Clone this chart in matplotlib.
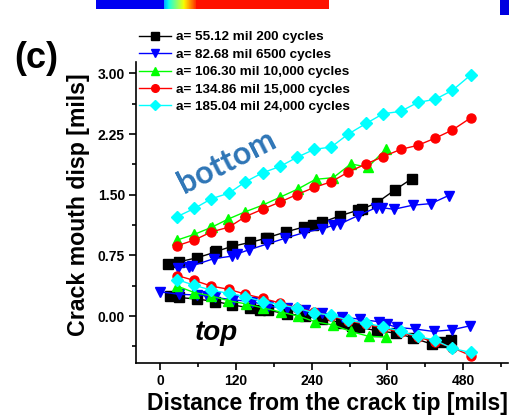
import numpy as np
import matplotlib.pyplot as plt
from matplotlib.lines import Line2D

plt.rcParams['font.family'] = ['Liberation Sans', 'DejaVu Sans']
plt.rcParams['font.weight'] = 'bold'

# a= 55.12 mil 200 cycles (black)
x_blk_bot = [13, 29, 58, 87, 89, 113, 142, 167, 170, 199, 227, 242, 257, 285, 314, 319, 343, 372, 399]
y_blk_bot = [0.64, 0.67, 0.72, 0.79, 0.80, 0.86, 0.91, 0.96, 0.97, 1.04, 1.10, 1.13, 1.16, 1.24, 1.31, 1.32, 1.40, 1.56, 1.70]
x_blk_top = [15, 29, 58, 87, 113, 142, 158, 171, 200, 229, 257, 286, 303, 315, 343, 373, 401, 431, 448, 460]
y_blk_top = [0.25, 0.23, 0.21, 0.18, 0.14, 0.10, 0.08, 0.07, 0.03, 0.00, -0.04, -0.08, -0.12, -0.14, -0.18, -0.21, -0.27, -0.35, -0.32, -0.29]

# a= 82.68 mil 6500 cycles (blue)
x_blu_bot = [28, 46, 50, 85, 113, 122, 141, 169, 197, 227, 256, 274, 285, 313, 342, 351, 370, 400, 429, 457]
y_blu_bot = [0.60, 0.61, 0.62, 0.71, 0.74, 0.77, 0.82, 0.89, 0.96, 1.03, 1.08, 1.12, 1.14, 1.24, 1.34, 1.34, 1.32, 1.37, 1.39, 1.49]
x_blu_top = [0, 29, 58, 74, 87, 116, 145, 171, 200, 229, 257, 288, 317, 346, 359, 375, 404, 433, 462, 491]
y_blu_top = [0.30, 0.27, 0.26, 0.25, 0.23, 0.20, 0.18, 0.12, 0.10, 0.08, 0.04, -0.01, -0.04, -0.07, -0.10, -0.14, -0.16, -0.19, -0.17, -0.12]

# a= 106.30 mil 10,000 cycles (green)
x_grn_bot = [27, 54, 79, 82, 108, 135, 162, 190, 218, 246, 274, 302, 329, 357]
y_grn_bot = [0.94, 1.01, 1.09, 1.10, 1.20, 1.29, 1.37, 1.47, 1.57, 1.69, 1.71, 1.88, 1.84, 2.06]
x_grn_top = [27, 54, 80, 108, 136, 163, 191, 219, 245, 274, 302, 330, 357]
y_grn_top = [0.37, 0.29, 0.25, 0.19, 0.15, 0.10, 0.05, 0.00, -0.07, -0.11, -0.19, -0.25, -0.26]

# a= 134.86 mil 15,000 cycles (red) and a= 185.04 mil 24,000 cycles (cyan)
x_18 = [27, 54, 81, 109, 135, 162, 190, 216, 244, 271, 298, 326, 353, 381, 408, 436, 463, 492]
y_red_bot = [0.87, 0.94, 1.04, 1.10, 1.23, 1.32, 1.41, 1.50, 1.59, 1.66, 1.78, 1.88, 1.97, 2.06, 2.11, 2.20, 2.30, 2.45]
y_red_top = [0.50, 0.44, 0.37, 0.33, 0.27, 0.22, 0.16, 0.10, 0.05, 0.00, -0.06, -0.10, -0.15, -0.20, -0.26, -0.32, -0.39, -0.49]
y_cyn_bot = [1.23, 1.33, 1.45, 1.52, 1.66, 1.77, 1.85, 1.96, 2.06, 2.09, 2.25, 2.38, 2.50, 2.53, 2.64, 2.68, 2.79, 2.98]
y_cyn_top = [0.45, 0.38, 0.32, 0.28, 0.24, 0.18, 0.14, 0.10, 0.04, 0.01, -0.05, -0.09, -0.13, -0.19, -0.25, -0.30, -0.40, -0.45]

labels = ['a= 55.12 mil 200 cycles', 'a= 82.68 mil 6500 cycles', 'a= 106.30 mil 10,000 cycles',
          'a= 134.86 mil 15,000 cycles', 'a= 185.04 mil 24,000 cycles']
colors = ['#000000', '#0000FF', '#00FF00', '#FF0000', '#00FFFF']
markers = ['s', 'v', '^', 'o', 'D']

series = [
    [(x_blk_bot, y_blk_bot), (x_blk_top, y_blk_top)],
    [(x_blu_bot, y_blu_bot), (x_blu_top, y_blu_top)],
    [(x_grn_bot, y_grn_bot), (x_grn_top, y_grn_top)],
    [(x_18, y_red_bot), (x_18, y_red_top)],
    [(x_18, y_cyn_bot), (x_18, y_cyn_top)],
]

fig = plt.figure(figsize=(5.09, 4.16), dpi=100)

# leftover strip of a colour bar from the neighbouring panel
cax = fig.add_axes([96 / 509, 1 - 9 / 416, (329 - 96) / 509, 9 / 416])
grad = np.concatenate([np.full(68, 0.1), np.linspace(0.3, 0.85, 32), np.full(133, 0.89)])
cax.imshow(grad.reshape(1, -1), aspect='auto', cmap='jet', vmin=0, vmax=1)
cax.axis('off')
bax = fig.add_axes([500 / 509, 1 - 15 / 416, 9 / 509, 15 / 416])
bax.set_facecolor('#0000E0')
bax.set_xticks([]); bax.set_yticks([])
for s in bax.spines.values():
    s.set_visible(False)

ax = fig.add_axes([136 / 509, 1 - 363 / 416, (508 - 136) / 509, (363 - 62) / 416])

handles = []
for i, parts in enumerate(series):
    for xs, ys in parts:
        ax.plot(xs, ys, color=colors[i], marker=markers[i], markersize=6.5 if markers[i] != 'D' else 6,
                lw=1, mec=colors[i], mfc=colors[i], zorder=3 + i)
    handles.append(Line2D([], [], color=colors[i], marker=markers[i], lw=1, markersize=5.5))

ax.set_xlim(-38.5, 551)
ax.set_ylim(-0.58, 3.14)
ax.set_xticks([0, 120, 240, 360, 480])
ax.set_xticks([60, 180, 300, 420, 540], minor=True)
ax.set_yticks([0.0, 0.75, 1.5, 2.25, 3.0])
ax.set_yticks([-0.375, 0.375, 1.125, 1.875, 2.625], minor=True)
ax.set_yticklabels(['0.00', '0.75', '1.50', '2.25', '3.00'])
ax.spines['top'].set_visible(False)
ax.spines['right'].set_visible(False)
ax.spines['left'].set_linewidth(1.2)
ax.spines['bottom'].set_linewidth(1.2)
ax.tick_params(which='major', direction='out', length=5, width=1.2, labelsize=10, pad=3)
ax.tick_params(which='minor', direction='out', length=3, width=1.2)
ax.set_xlabel('Distance from the crack tip [mils]', fontsize=16.5, fontweight='bold')
ax.set_ylabel('Crack mouth disp [mils]', fontsize=16.7, fontweight='bold')
ax.xaxis.set_label_coords(0.515, -0.095)
ax.yaxis.set_label_coords(-0.125, 0.525)

ax.text(0.245, 0.67, 'bottom', transform=ax.transAxes, rotation=27, fontsize=23, fontweight='bold',
        color='#2E75B6', family=['Lato', 'DejaVu Sans'], ha='center', va='center')
ax.text(0.215, 0.1, 'top', transform=ax.transAxes, fontsize=20, fontweight='bold', style='italic',
        color='black', ha='center', va='center')

fig.text(14 / 509, 1 - 59 / 416, '(c)', fontsize=26, fontweight='bold', va='center', ha='left')

fig.legend(handles, labels, loc='upper left', bbox_to_anchor=(139 / 509, 1 - 31 / 416),
           frameon=False, fontsize=9.7, handlelength=2.4, handletextpad=0.37, labelspacing=0.37,
           borderpad=0, borderaxespad=0)

fig.savefig('out.png', dpi=100)
